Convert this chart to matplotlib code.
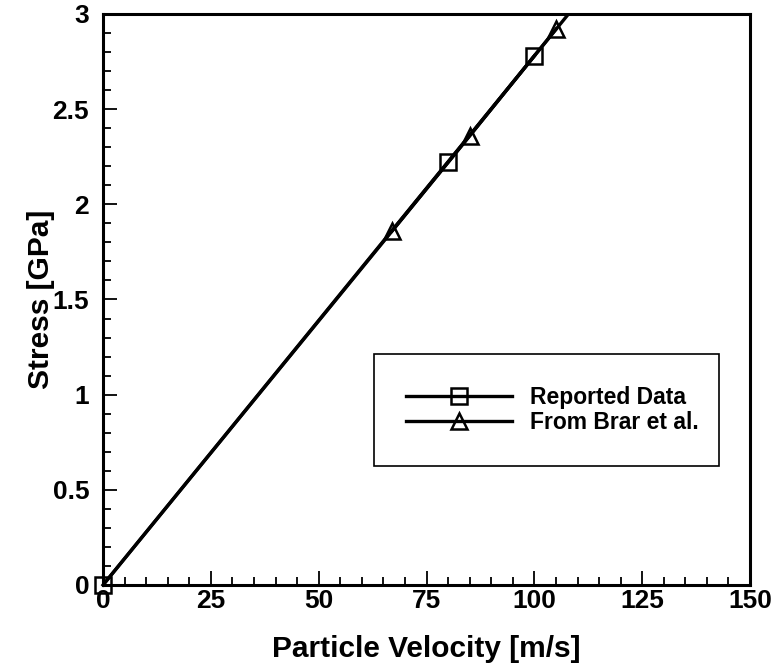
import matplotlib
matplotlib.use("Agg")
import matplotlib.pyplot as plt
import numpy as np
from matplotlib.ticker import MultipleLocator

plt.rcParams["font.family"] = ["Liberation Sans", "DejaVu Sans"]
plt.rcParams["font.weight"] = "bold"

# Reported data
reported_velocity = [0, 80, 100]
reported_stress = [0.0, 2.22, 2.78]

# From Brar et al.
brar_velocity = [67, 85, 105]
brar_stress = [1.86, 2.36, 2.92]

# linear fit through origin
fit_slope = 0.0278
fit_velocity = np.array([0, 115])

fig = plt.figure(figsize=(7.77, 6.69), dpi=100)
ax = fig.add_axes([0.1326, 0.1256, 0.8327, 0.8535])

ax.plot(fit_velocity, fit_slope * fit_velocity, color="black", lw=2.4)
ax.plot(reported_velocity, reported_stress, "-s", color="black", lw=2.4,
        ms=11, mfc="none", mew=1.8, label="Reported Data", clip_on=False)
ax.plot(brar_velocity, brar_stress, "-^", color="black", lw=2.4,
        ms=12, mfc="none", mew=1.8, label="From Brar et al.")

ax.set_xlim(0, 150)
ax.set_ylim(0, 3)
ax.xaxis.set_major_locator(MultipleLocator(25))
ax.xaxis.set_minor_locator(MultipleLocator(5))
ax.yaxis.set_minor_locator(MultipleLocator(0.1))
ax.set_yticks([0, 0.5, 1, 1.5, 2, 2.5, 3])
ax.set_yticklabels(["0", "0.5", "1", "1.5", "2", "2.5", "3"])

ax.tick_params(which="both", direction="in", top=False, right=False,
               labelsize=19, width=1.3)
ax.tick_params(axis="x", pad=3)
ax.tick_params(axis="y", pad=10)
ax.tick_params(which="major", length=10)
ax.tick_params(which="minor", length=6)
for s in ax.spines.values():
    s.set_linewidth(2.2)

ax.set_xlabel("Particle Velocity [m/s]", fontsize=21.5, fontweight="bold", labelpad=16)
ax.set_ylabel("Stress [GPa]", fontsize=21.5, fontweight="bold", labelpad=-1.5)

leg = ax.legend(loc="center", bbox_to_anchor=(0.419, 0.205, 0.533, 0.203),
                mode="expand", frameon=True, fancybox=False, edgecolor="black",
                framealpha=1, handlelength=4.6, borderaxespad=0,
                prop={"weight": "bold", "size": 16.5}, borderpad=1.4,
                labelspacing=0.1, handletextpad=0.8)
leg.get_frame().set_linewidth(1.2)

fig.savefig("out.png", dpi=100)
